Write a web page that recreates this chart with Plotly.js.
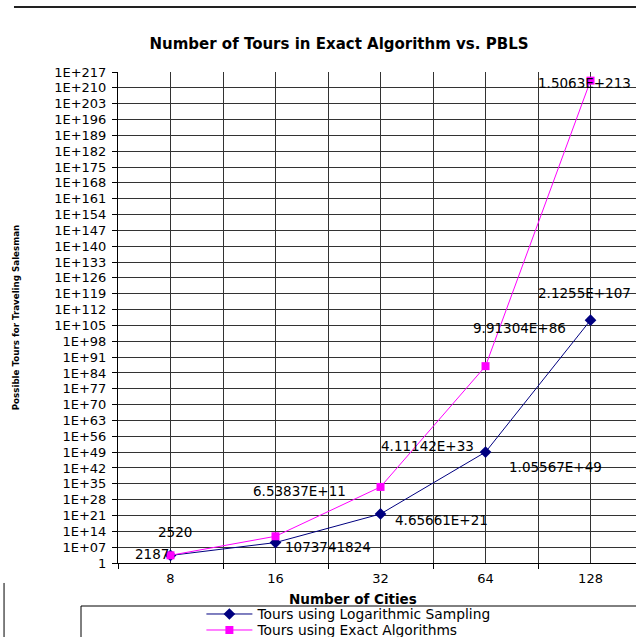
<!DOCTYPE html>
<html><head><meta charset="utf-8">
<script src="https://cdn.plot.ly/plotly-3.0.1.min.js"></script>
<style>html,body{margin:0;padding:0;background:#fff}#chart{width:636px;height:637px}</style>
</head><body><div id="chart"></div>
<script>
// ---- data ----
const cities = ['8', '16', '32', '64', '128'];
const logSampling = [2187, 1073741824, 4.65661e21, 1.05567e49, 2.1255e107];
const exactAlgo = [2520, 6.53837e11, 4.11142e33, 9.91304e86, 1.5063e213];
const seriesNames = ['Tours using Logarithmic Sampling', 'Tours using Exact Algorithms'];
const yTickLabels = ['1','1E+07','1E+14','1E+21','1E+28','1E+35','1E+42','1E+49','1E+56','1E+63',
  '1E+70','1E+77','1E+84','1E+91','1E+98','1E+105','1E+112','1E+119','1E+126','1E+133','1E+140',
  '1E+147','1E+154','1E+161','1E+168','1E+175','1E+182','1E+189','1E+196','1E+203','1E+210','1E+217'];
const chartTitle = 'Number of Tours in Exact Algorithm vs. PBLS';
const xTitle = 'Number of Cities';
const yTitle = 'Possible Tours for Traveling Salesman';

// ---- label placement (pixel offsets: right, up) ----
const logLabelShift = [[-19, 1], [52, -4], [61, -6], [70, -15], [-6, 27]];
const exactLabelShift = [[4, 23], [24, 45], [47, 41], [34, 38], [-6, -2]];

const FONT = 'DejaVu Sans, Arial, sans-serif';
const xIdx = cities.map((c, i) => i);

function excelGeneral(v) {
  if (Math.abs(v) < 1e11) return String(Math.round(v));
  let s = v.toExponential(5);
  let [m, e] = s.split('e');
  if (m.indexOf('.') >= 0) m = m.replace(/0+$/, '').replace(/\.$/, '');
  const sign = e[0] === '-' ? '-' : '+';
  let ed = e.replace(/^[+-]/, '');
  if (ed.length < 2) ed = '0' + ed;
  return m + 'E' + sign + ed;
}

const traces = [
  {x: xIdx, y: logSampling, name: seriesNames[0], type: 'scatter', mode: 'lines+markers', legend: 'legend',
   line: {color: '#000080', width: 1}, marker: {symbol: 'diamond', size: 9, color: '#000080'}},
  {x: xIdx, y: exactAlgo, name: seriesNames[1], type: 'scatter', mode: 'lines+markers', legend: 'legend2',
   line: {color: '#FF00FF', width: 1}, marker: {symbol: 'square', size: 8, color: '#FF00FF'}}
];

const annotations = [];
[[logSampling, logLabelShift], [exactAlgo, exactLabelShift]].forEach(([vals, shifts]) => {
  vals.forEach((v, i) => {
    annotations.push({x: xIdx[i], y: Math.log10(v), xref: 'x', yref: 'y', text: excelGeneral(v),
      showarrow: false, xanchor: 'center', yanchor: 'middle', xshift: shifts[i][0], yshift: shifts[i][1],
      font: {family: FONT, size: 13.5, color: '#000'}});
  });
});
// x-axis title
annotations.push({xref: 'paper', yref: 'paper', x: 0.454, y: -0.0725, xanchor: 'center', yanchor: 'middle',
  showarrow: false, text: xTitle, font: {family: FONT, size: 13.5, weight: 'bold', color: '#000'}});

const legendCommon = {xanchor: 'left', yanchor: 'middle', orientation: 'v', bgcolor: 'rgba(0,0,0,0)',
  borderwidth: 0, itemwidth: 46, font: {family: FONT, size: 13.8, color: '#000'}};

const layout = {
  width: 636, height: 637,
  margin: {l: 118, r: 0, t: 72, b: 74, autoexpand: false},
  paper_bgcolor: '#fff', plot_bgcolor: '#fff',
  font: {family: FONT, color: '#000'},
  showlegend: true,
  title: {text: chartTitle, x: 0.533, xanchor: 'center',
          y: 0.931, yanchor: 'middle', font: {family: FONT, size: 15, weight: 'bold', color: '#000'}},
  xaxis: {
    range: [-0.5, 4.433], tickmode: 'array', tickvals: xIdx, ticktext: cities,
    ticks: '', showgrid: true, gridcolor: '#333', gridwidth: 1, zeroline: false,
    showline: true, linecolor: '#000', linewidth: 1, ticklabelstandoff: 3,
    tickfont: {family: FONT, size: 13, color: '#000'},
    minor: {tickmode: 'linear', tick0: -0.5, dtick: 1, ticks: 'outside', ticklen: 5, tickcolor: '#000',
            showgrid: true, gridcolor: '#333', gridwidth: 1}
  },
  yaxis: {
    type: 'log', range: [0, 217], tickmode: 'array',
    tickvals: yTickLabels.map(Number), ticktext: yTickLabels,
    ticks: 'outside', ticklen: 5, tickcolor: '#000', showgrid: true, gridcolor: '#333', gridwidth: 1,
    zeroline: false, showline: true, linecolor: '#000', linewidth: 1, ticklabelstandoff: 3,
    tickfont: {family: FONT, size: 13, color: '#000'},
    title: {text: yTitle, standoff: 33,
            font: {family: FONT, size: 8.7, weight: 'bold', color: '#000'}}
  },
  legend: Object.assign({x: 0.161, y: -0.1039}, legendCommon),
  legend2: Object.assign({x: 0.161, y: -0.1365}, legendCommon),
  annotations: annotations,
  shapes: [
    {type: 'rect', xref: 'paper', yref: 'paper', x0: -0.0714, x1: 1.01, y0: -0.0876, y1: -0.3,
     line: {color: '#000', width: 1}, fillcolor: 'rgba(0,0,0,0)', layer: 'below'},
    {type: 'line', xref: 'paper', yref: 'paper', x0: -0.2008, x1: 1.05, y0: 1.1324, y1: 1.1324,
     line: {color: '#222', width: 2}},
    {type: 'line', xref: 'paper', yref: 'paper', x0: -0.22, x1: -0.22, y0: -0.0407, y1: -0.2,
     line: {color: '#000', width: 1}}
  ]
};

Plotly.newPlot('chart', traces, layout, {displayModeBar: false, staticPlot: true});
</script>
</body></html>
